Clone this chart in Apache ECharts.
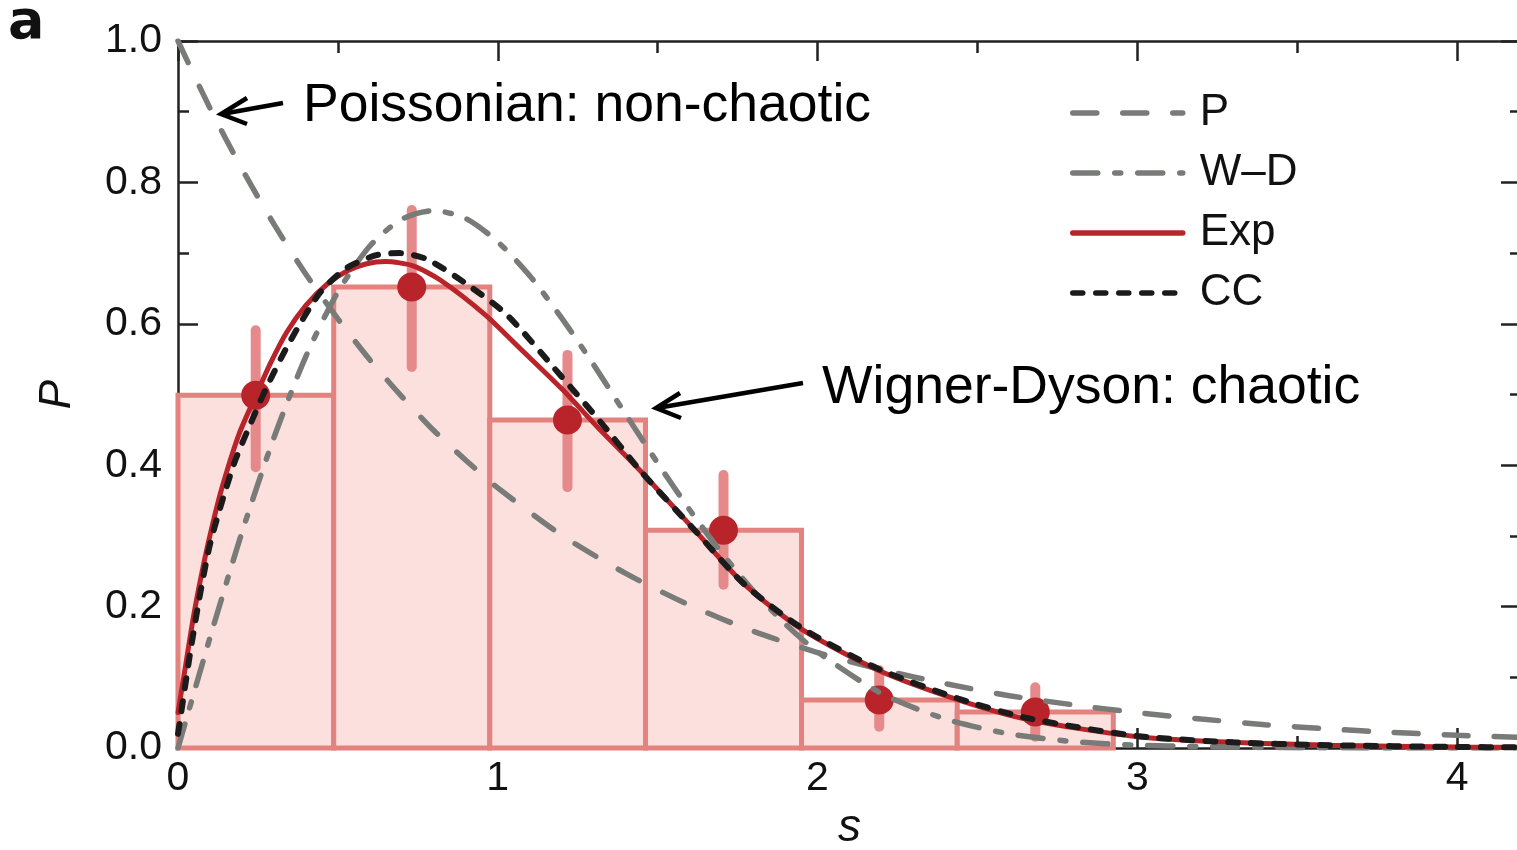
<!DOCTYPE html>
<html><head><meta charset="utf-8">
<script src="https://cdn.jsdelivr.net/npm/echarts@6/dist/echarts.min.js"></script>
<style>html,body{margin:0;padding:0;background:#fff}#c{width:1517px;height:850px}</style>
</head><body><div id="c"></div>
<script>
// ---- data ----
const binEdges = [0, 0.487, 0.975, 1.462, 1.95, 2.437, 2.925];
const histHeights = [0.499, 0.652, 0.464, 0.308, 0.068, 0.051];
const pointS = [0.243, 0.731, 1.218, 1.706, 2.193, 2.681];
const pointP = [0.499, 0.652, 0.464, 0.308, 0.068, 0.051];
const errLow = [0.397, 0.539, 0.369, 0.231, 0.030, 0.016];
const errHigh = [0.591, 0.761, 0.556, 0.386, 0.110, 0.086];

const poissonCurve = [[0,1.0],[0.1,0.905],[0.2,0.819],[0.3,0.741],[0.4,0.670],[0.5,0.607],[0.6,0.549],[0.7,0.497],[0.8,0.449],[0.9,0.407],[1.0,0.368],[1.2,0.301],[1.4,0.247],[1.6,0.202],[1.8,0.165],[2.0,0.135],[2.2,0.111],[2.4,0.091],[2.6,0.074],[2.8,0.061],[3.0,0.050],[3.2,0.041],[3.4,0.033],[3.6,0.027],[3.8,0.022],[4.0,0.018],[4.2,0.015]];
const wdCurve = [[0,0],[0.1,0.156],[0.2,0.305],[0.3,0.439],[0.4,0.554],[0.5,0.645],[0.6,0.710],[0.7,0.748],[0.8,0.760],[0.9,0.749],[1.0,0.716],[1.1,0.668],[1.2,0.608],[1.3,0.542],[1.4,0.472],[1.5,0.403],[1.6,0.337],[1.7,0.276],[1.8,0.222],[1.9,0.175],[2.0,0.136],[2.2,0.077],[2.4,0.041],[2.6,0.020],[2.8,0.009],[3.0,0.004],[3.2,0.002],[3.5,0.0004],[4.2,0]];
const expCurve = [[0,0.05],[0.025,0.12],[0.05,0.19],[0.08,0.26],[0.11,0.32],[0.14,0.372],[0.19,0.443],[0.247,0.502],[0.29,0.545],[0.34,0.588],[0.40,0.626],[0.466,0.656],[0.53,0.675],[0.59,0.685],[0.65,0.688],[0.735,0.682],[0.82,0.662],[0.96,0.613],[1.07,0.565],[1.2,0.508],[1.32,0.45],[1.45,0.39],[1.62,0.306],[1.77,0.232],[1.95,0.168],[2.19,0.11],[2.44,0.068],[2.66,0.04],[3.0,0.016],[3.3,0.008],[3.6,0.004],[4.0,0.0015],[4.2,0.001]];
const ccCurve = [[0,0.02],[0.04,0.14],[0.07,0.22],[0.1,0.288],[0.14,0.352],[0.18,0.408],[0.23,0.462],[0.277,0.51],[0.35,0.575],[0.444,0.644],[0.528,0.679],[0.62,0.697],[0.694,0.70],[0.78,0.691],[0.9,0.657],[1.03,0.612],[1.2,0.525],[1.32,0.462],[1.45,0.39],[1.62,0.306],[1.77,0.232],[1.95,0.17],[2.19,0.112],[2.44,0.07],[2.66,0.042],[3.0,0.017],[3.3,0.008],[3.6,0.004],[4.0,0.0015],[4.2,0.001]];

const seriesNames = ['P', 'W\u2013D', 'Exp', 'CC'];
const xTickLabels = ['0', '1', '2', '3', '4'];
const yTickLabels = ['0.0', '0.2', '0.4', '0.6', '0.8', '1.0'];
const annotations = ['Poissonian: non-chaotic', 'Wigner-Dyson: chaotic'];

// ---- styles ----
const FONT = "'Liberation Sans', Arial, Helvetica, sans-serif";
const GRAY = '#787b77';
const RED = '#b8242a';
const BLACK = '#1b1b1b';
const AXC = '#222';

const chart = echarts.init(document.getElementById('c'), null, {renderer: 'canvas'});

function xAx(pos, interval, len, showLine, showLabel) {
  return {
    type: 'value', position: pos, min: 0, max: 4.2, interval: interval,
    axisLine: {show: showLine, onZero: false, lineStyle: {color: AXC, width: 2.5}},
    axisTick: {show: true, inside: true, length: len, lineStyle: {color: AXC, width: 2.5}},
    axisLabel: {show: showLabel, fontSize: 41, color: '#111', fontFamily: FONT, margin: 10,
      showMaxLabel: false,
      formatter: v => (Math.abs(v - Math.round(v)) < 1e-9 && xTickLabels[Math.round(v)] !== undefined) ? xTickLabels[Math.round(v)] : ''},
    splitLine: {show: false}
  };
}
function yAx(pos, showLabel) {
  return {
    type: 'value', position: pos, min: 0, max: 1, interval: 0.2,
    axisLine: {show: true, onZero: false, lineStyle: {color: AXC, width: 2.5}},
    axisTick: {show: true, inside: true, length: 20, lineStyle: {color: AXC, width: 2.5}},
    minorTick: {show: true, splitNumber: 2, length: 11, lineStyle: {color: AXC, width: 2.5}},
    axisLabel: {show: showLabel, fontSize: 41, color: '#111', fontFamily: FONT, margin: 16,
      formatter: v => yTickLabels[Math.round(v / 0.2)]},
    splitLine: {show: false}
  };
}

const xAxes = [xAx('bottom', 1, 20, true, true), xAx('bottom', 0.5, 12, false, false),
               xAx('top', 1, 20, true, false), xAx('top', 0.5, 12, false, false)];
xAxes[0].name = 's';
xAxes[0].nameLocation = 'middle';
xAxes[0].nameGap = 57;
xAxes[0].nameTextStyle = {fontSize: 46, fontStyle: 'italic', color: '#111', fontFamily: FONT};
const yAxes = [yAx('left', true), yAx('right', false)];
yAxes[0].name = 'P';
yAxes[0].nameLocation = 'middle';
yAxes[0].nameGap = 98;
yAxes[0].nameTextStyle = {fontSize: 44, fontStyle: 'italic', color: '#111', fontFamily: FONT};

const lineBase = {type: 'line', xAxisIndex: 0, yAxisIndex: 0, symbol: 'none', smooth: 0.25, silent: true, animation: false};

const option = {
  animation: false,
  backgroundColor: '#fff',
  textStyle: {fontFamily: FONT},
  grid: {left: 178, top: 41, bottom: 102, right: -4, containLabel: false, outerBoundsMode: 'none'},
  xAxis: xAxes,
  yAxis: yAxes,
  legend: {
    orient: 'vertical', left: 1070, top: 91, itemWidth: 110, itemHeight: 16, itemGap: 16,
    padding: 0, data: seriesNames, selectedMode: false,
    itemStyle: {opacity: 0},
    lineStyle: {width: 5.5},
    textStyle: {fontSize: 44, color: '#111', fontFamily: FONT, padding: [0, 0, 0, 12]}
  },
  series: [
    {
      type: 'custom', name: 'hist', xAxisIndex: 0, yAxisIndex: 0, silent: true, z: 1,
      data: histHeights.map((h, i) => [binEdges[i], binEdges[i + 1], h]),
      encode: {x: [0, 1], y: 2},
      renderItem: (params, api) => {
        const p0 = api.coord([api.value(0), api.value(2)]);
        const p1 = api.coord([api.value(1), 0]);
        return {type: 'rect', shape: {x: p0[0], y: p0[1], width: p1[0] - p0[0], height: p1[1] - p0[1]},
          style: {fill: '#fbe0de', stroke: '#e3827f', lineWidth: 5}};
      }
    },
    {
      type: 'custom', name: 'err', xAxisIndex: 0, yAxisIndex: 0, silent: true, z: 2,
      data: pointS.map((s, i) => [s, errLow[i], errHigh[i]]),
      encode: {x: 0, y: [1, 2]},
      renderItem: (params, api) => {
        const a = api.coord([api.value(0), api.value(1)]);
        const b = api.coord([api.value(0), api.value(2)]);
        return {type: 'line', shape: {x1: a[0], y1: a[1], x2: b[0], y2: b[1]},
          style: {stroke: '#e6898a', lineWidth: 10, lineCap: 'round'}};
      }
    },
    {
      type: 'scatter', name: 'pts', xAxisIndex: 0, yAxisIndex: 0, silent: true, z: 3,
      data: pointS.map((s, i) => [s, pointP[i]]),
      symbol: 'circle', symbolSize: 29, itemStyle: {color: RED, opacity: 1}
    },
    Object.assign({}, lineBase, {name: seriesNames[0], data: poissonCurve, z: 4,
      itemStyle: {color: GRAY},
      lineStyle: {color: GRAY, width: 5.5, type: [24, 26], cap: 'round'}}),
    Object.assign({}, lineBase, {name: seriesNames[1], data: wdCurve, z: 4,
      itemStyle: {color: GRAY},
      lineStyle: {color: GRAY, width: 5.5, type: [25, 17, 6, 17], cap: 'round'}}),
    Object.assign({}, lineBase, {name: seriesNames[2], data: expCurve, z: 5,
      itemStyle: {color: RED},
      lineStyle: {color: RED, width: 5, type: 'solid', cap: 'round'}}),
    Object.assign({}, lineBase, {name: seriesNames[3], data: ccCurve, z: 6,
      itemStyle: {color: BLACK},
      lineStyle: {color: BLACK, width: 6, type: [10, 13], cap: 'round'}})
  ],
  graphic: [
    {type: 'text', left: 8, top: -3, style: {text: 'a', font: "bold 54px 'DejaVu Sans', sans-serif", fill: '#111'}},
    {type: 'text', x: 303, y: 106, style: {text: annotations[0], font: "53.5px " + FONT, fill: '#000', verticalAlign: 'middle', align: 'left'}},
    {type: 'text', x: 822, y: 388, style: {text: annotations[1], font: "53.5px " + FONT, fill: '#000', verticalAlign: 'middle', align: 'left'}},
    {type: 'polyline', shape: {points: [[283, 103], [222, 114]]}, style: {stroke: '#000', lineWidth: 4.5, fill: null}},
    {type: 'polyline', shape: {points: [[247, 98], [221, 114], [247, 124]]}, style: {stroke: '#000', lineWidth: 4.5, fill: null, lineJoin: 'miter'}},
    {type: 'polyline', shape: {points: [[803, 383], [657, 408]]}, style: {stroke: '#000', lineWidth: 4.5, fill: null}},
    {type: 'polyline', shape: {points: [[680, 393], [656, 408], [681, 418]]}, style: {stroke: '#000', lineWidth: 4.5, fill: null, lineJoin: 'miter'}}
  ]
};
chart.setOption(option);
</script>
</body></html>
